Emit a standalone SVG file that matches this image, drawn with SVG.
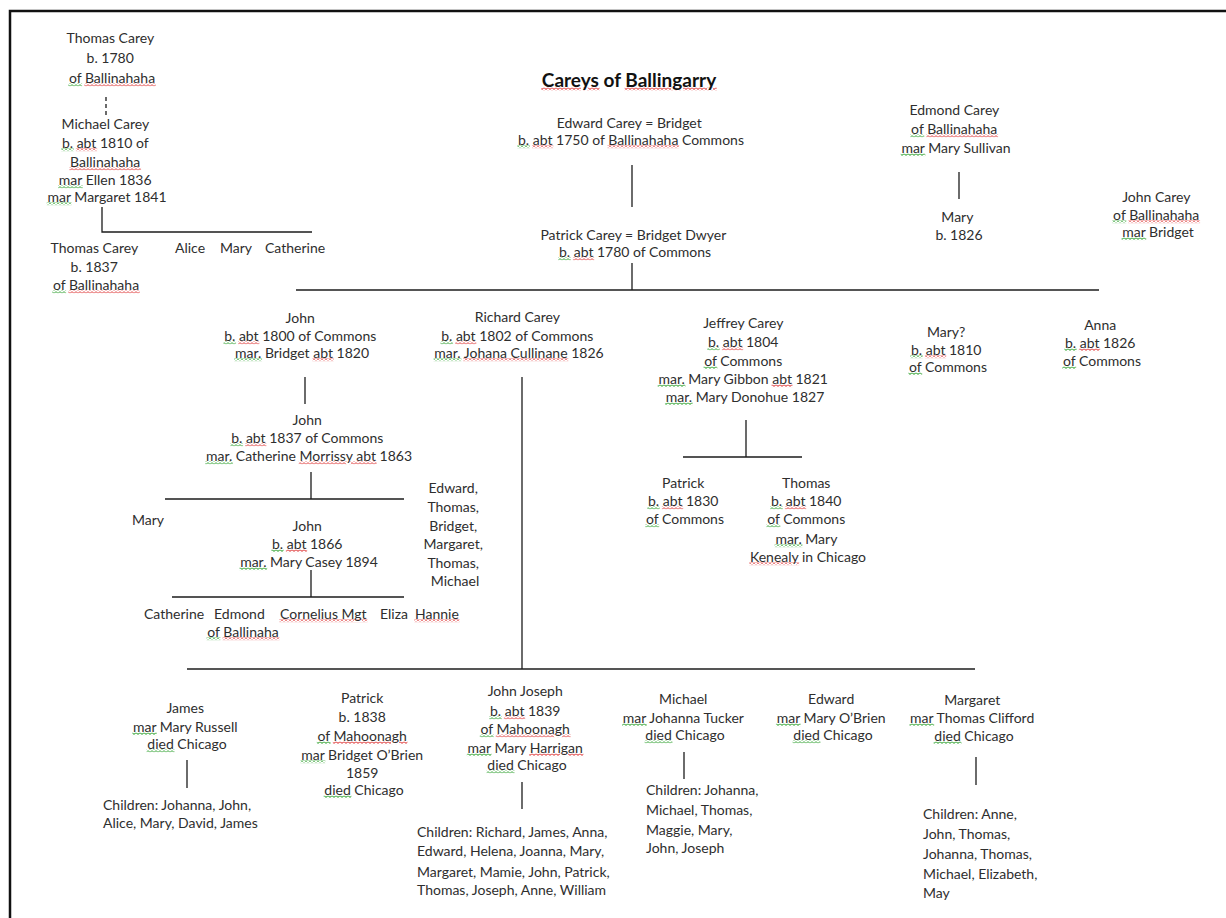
<svg xmlns="http://www.w3.org/2000/svg" width="1226" height="918" viewBox="0 0 1226 918">
<style>
.t{font-family:Lato,"Open Sans","Liberation Sans",sans-serif;font-size:14px;fill:#2e2e2e;text-anchor:middle}
.l{text-anchor:start}
.title{font-family:Lato,"Open Sans","Liberation Sans",sans-serif;font-size:19px;font-weight:bold;fill:#111;text-anchor:middle}
.ln{stroke:#1c1c1c;stroke-width:1.3;fill:none}
.r{fill:url(#wr);stroke:url(#wr);stroke-width:1.6;text-decoration:underline}
.g{fill:url(#wg);stroke:url(#wg);stroke-width:1.6;text-decoration:underline}
.k{fill:#2e2e2e;stroke:none}
.tk{fill:#111;stroke:none}
</style>
<defs>
<pattern id="wr" patternUnits="userSpaceOnUse" width="4" height="3"><path d="M0 0.5 L2 2.5 L4 0.5" stroke="#e04040" stroke-width="0.9" fill="none"/></pattern>
<pattern id="wg" patternUnits="userSpaceOnUse" width="4" height="3"><path d="M0 0.5 L2 2.5 L4 0.5" stroke="#3aa63a" stroke-width="0.9" fill="none"/></pattern>
</defs>
<rect width="1226" height="918" fill="#fff"/>
<g id="frame"><path d="M10 918 V11 H1226" stroke="#111" stroke-width="2.5" fill="none"/></g>

<g id="connectors">
<path class="ln" d="M106 97 V115" stroke-dasharray="4,3"/>
<path class="ln" d="M102 207 V232 H312"/>
<path class="ln" d="M632 165 V207"/>
<path class="ln" d="M632 263 V290"/>
<path class="ln" d="M296 290 H1099"/>
<path class="ln" d="M959 172 V199"/>
<path class="ln" d="M305 377 V404"/>
<path class="ln" d="M311 472 V499 M165 499 H404"/>
<path class="ln" d="M311 570 V597 M172 597 H404"/>
<path class="ln" d="M522 377 V669"/>
<path class="ln" d="M746 420 V457 M683 457 H802"/>
<path class="ln" d="M187 669 H975"/>
<path class="ln" d="M187 760 V788"/>
<path class="ln" d="M522 782 V809"/>
<path class="ln" d="M684 752 V779"/>
<path class="ln" d="M976 757 V785"/>
</g>

<g id="title"><text class="title" x="629" y="87"><tspan class="r"><tspan class="tk">Careys</tspan></tspan> of <tspan class="r"><tspan class="tk">Ballingarry</tspan></tspan></text></g>

<g id="thomas1780"><text class="t">
<tspan x="112" y="43">Thomas Carey</tspan>
<tspan x="112" y="63">b. 1780</tspan>
<tspan x="112" y="83"><tspan class="g"><tspan class="k">of</tspan></tspan> <tspan class="r"><tspan class="k">Ballinahaha</tspan></tspan></tspan>
</text></g>

<g id="michael1810"><text class="t">
<tspan x="107" y="129">Michael Carey</tspan>
<tspan x="107" y="148"><tspan class="g"><tspan class="k">b.</tspan></tspan> <tspan class="r"><tspan class="k">abt</tspan></tspan> 1810 of</tspan>
<tspan x="107" y="167"><tspan class="r"><tspan class="k">Ballinahaha</tspan></tspan></tspan>
<tspan x="107" y="185"><tspan class="g"><tspan class="k">mar</tspan></tspan> Ellen 1836</tspan>
<tspan x="107" y="202"><tspan class="g"><tspan class="k">mar</tspan></tspan> Margaret 1841</tspan>
</text></g>

<g id="thomas1837"><text class="t">
<tspan x="96" y="253">Thomas Carey</tspan>
<tspan x="96" y="272">b. 1837</tspan>
<tspan x="96" y="290"><tspan class="g"><tspan class="k">of</tspan></tspan> <tspan class="r"><tspan class="k">Ballinahaha</tspan></tspan></tspan>
</text></g>

<g id="michael-children"><text class="t l" y="253"><tspan x="175">Alice</tspan><tspan x="220">Mary</tspan><tspan x="265">Catherine</tspan></text></g>

<g id="edward1750"><text class="t">
<tspan x="631" y="128">Edward Carey = Bridget</tspan>
<tspan x="631" y="145"><tspan class="g"><tspan class="k">b.</tspan></tspan> <tspan class="r"><tspan class="k">abt</tspan></tspan> 1750 of <tspan class="r"><tspan class="k">Ballinahaha</tspan></tspan> Commons</tspan>
</text></g>

<g id="patrick1780"><text class="t">
<tspan x="635" y="240">Patrick Carey = Bridget Dwyer</tspan>
<tspan x="635" y="257"><tspan class="g"><tspan class="k">b.</tspan></tspan> <tspan class="r"><tspan class="k">abt</tspan></tspan> 1780 of Commons</tspan>
</text></g>

<g id="edmond"><text class="t">
<tspan x="956" y="115">Edmond Carey</tspan>
<tspan x="956" y="134"><tspan class="g"><tspan class="k">of</tspan></tspan> <tspan class="r"><tspan class="k">Ballinahaha</tspan></tspan></tspan>
<tspan x="956" y="153"><tspan class="g"><tspan class="k">mar</tspan></tspan> Mary Sullivan</tspan>
</text></g>

<g id="mary1826"><text class="t">
<tspan x="959" y="222">Mary</tspan>
<tspan x="959" y="240">b. 1826</tspan>
</text></g>

<g id="johncarey"><text class="t">
<tspan x="1158" y="202">John Carey</tspan>
<tspan x="1158" y="220"><tspan class="g"><tspan class="k">of</tspan></tspan> <tspan class="r"><tspan class="k">Ballinahaha</tspan></tspan></tspan>
<tspan x="1158" y="237"><tspan class="g"><tspan class="k">mar</tspan></tspan> Bridget</tspan>
</text></g>

<g id="john1800"><text class="t">
<tspan x="302" y="323">John</tspan>
<tspan x="302" y="341"><tspan class="g"><tspan class="k">b.</tspan></tspan> <tspan class="r"><tspan class="k">abt</tspan></tspan> 1800 of Commons</tspan>
<tspan x="302" y="358"><tspan class="g"><tspan class="k">mar.</tspan></tspan> Bridget <tspan class="r"><tspan class="k">abt</tspan></tspan> 1820</tspan>
</text></g>

<g id="john1837"><text class="t">
<tspan x="309" y="425">John</tspan>
<tspan x="309" y="443"><tspan class="g"><tspan class="k">b.</tspan></tspan> <tspan class="r"><tspan class="k">abt</tspan></tspan> 1837 of Commons</tspan>
<tspan x="309" y="461"><tspan class="g"><tspan class="k">mar.</tspan></tspan> Catherine <tspan class="r"><tspan class="k">Morrissy abt</tspan></tspan> 1863</tspan>
</text></g>

<g id="mary-john1837"><text class="t l" x="132" y="525">Mary</text></g>

<g id="john1866"><text class="t">
<tspan x="309" y="531">John</tspan>
<tspan x="309" y="549"><tspan class="g"><tspan class="k">b.</tspan></tspan> <tspan class="r"><tspan class="k">abt</tspan></tspan> 1866</tspan>
<tspan x="309" y="567"><tspan class="g"><tspan class="k">mar.</tspan></tspan> Mary Casey 1894</tspan>
</text></g>

<g id="john1866-children"><text class="t l" y="619"><tspan x="144">Catherine</tspan><tspan x="214">Edmond</tspan><tspan x="280"><tspan class="r"><tspan class="k">Cornelius Mgt</tspan></tspan></tspan><tspan x="380">Eliza</tspan><tspan x="415"><tspan class="r"><tspan class="k">Hannie</tspan></tspan></tspan></text>
<text class="t" x="243" y="637"><tspan class="g"><tspan class="k">of</tspan></tspan> <tspan class="r"><tspan class="k">Ballinaha</tspan></tspan></text></g>

<g id="john1837-siblings"><text class="t">
<tspan x="455" y="493">Edward,</tspan>
<tspan x="455" y="512">Thomas,</tspan>
<tspan x="455" y="531">Bridget,</tspan>
<tspan x="455" y="549">Margaret,</tspan>
<tspan x="455" y="568">Thomas,</tspan>
<tspan x="455" y="586">Michael</tspan>
</text></g>

<g id="richard1802"><text class="t">
<tspan x="519" y="322">Richard Carey</tspan>
<tspan x="519" y="341"><tspan class="g"><tspan class="k">b.</tspan></tspan> <tspan class="r"><tspan class="k">abt</tspan></tspan> 1802 of Commons</tspan>
<tspan x="519" y="358"><tspan class="g"><tspan class="k">mar.</tspan></tspan> <tspan class="r"><tspan class="k">Johana Cullinane</tspan></tspan> 1826</tspan>
</text></g>

<g id="jeffrey1804"><text class="t">
<tspan x="745" y="328">Jeffrey Carey</tspan>
<tspan x="745" y="347"><tspan class="g"><tspan class="k">b.</tspan></tspan> <tspan class="r"><tspan class="k">abt</tspan></tspan> 1804</tspan>
<tspan x="745" y="366"><tspan class="g"><tspan class="k">of</tspan></tspan> Commons</tspan>
<tspan x="745" y="384"><tspan class="g"><tspan class="k">mar.</tspan></tspan> Mary Gibbon <tspan class="r"><tspan class="k">abt</tspan></tspan> 1821</tspan>
<tspan x="745" y="402"><tspan class="g"><tspan class="k">mar.</tspan></tspan> Mary Donohue 1827</tspan>
</text></g>

<g id="patrick1830"><text class="t">
<tspan x="685" y="488">Patrick</tspan>
<tspan x="685" y="506"><tspan class="g"><tspan class="k">b.</tspan></tspan> <tspan class="r"><tspan class="k">abt</tspan></tspan> 1830</tspan>
<tspan x="685" y="524"><tspan class="g"><tspan class="k">of</tspan></tspan> Commons</tspan>
</text></g>

<g id="thomas1840"><text class="t">
<tspan x="808" y="488">Thomas</tspan>
<tspan x="808" y="506"><tspan class="g"><tspan class="k">b.</tspan></tspan> <tspan class="r"><tspan class="k">abt</tspan></tspan> 1840</tspan>
<tspan x="808" y="524"><tspan class="g"><tspan class="k">of</tspan></tspan> Commons</tspan>
<tspan x="808" y="544"><tspan class="g"><tspan class="k">mar.</tspan></tspan> Mary</tspan>
<tspan x="808" y="562"><tspan class="r"><tspan class="k">Kenealy</tspan></tspan> in Chicago</tspan>
</text></g>

<g id="mary1810"><text class="t">
<tspan x="948" y="337">Mary?</tspan>
<tspan x="948" y="355"><tspan class="g"><tspan class="k">b.</tspan></tspan> <tspan class="r"><tspan class="k">abt</tspan></tspan> 1810</tspan>
<tspan x="948" y="372"><tspan class="g"><tspan class="k">of</tspan></tspan> Commons</tspan>
</text></g>

<g id="anna1826"><text class="t">
<tspan x="1102" y="330">Anna</tspan>
<tspan x="1102" y="348"><tspan class="g"><tspan class="k">b.</tspan></tspan> <tspan class="r"><tspan class="k">abt</tspan></tspan> 1826</tspan>
<tspan x="1102" y="366"><tspan class="g"><tspan class="k">of</tspan></tspan> Commons</tspan>
</text></g>

<g id="james"><text class="t">
<tspan x="187" y="713">James</tspan>
<tspan x="187" y="732"><tspan class="g"><tspan class="k">mar</tspan></tspan> Mary Russell</tspan>
<tspan x="187" y="749"><tspan class="g"><tspan class="k">died</tspan></tspan> Chicago</tspan>
</text>
<text class="t l"><tspan x="103" y="810">Children: Johanna, John,</tspan><tspan x="103" y="828">Alice, Mary, David, James</tspan></text></g>

<g id="patrick1838"><text class="t">
<tspan x="364" y="703">Patrick</tspan>
<tspan x="364" y="722">b. 1838</tspan>
<tspan x="364" y="741"><tspan class="g"><tspan class="k">of</tspan></tspan> <tspan class="r"><tspan class="k">Mahoonagh</tspan></tspan></tspan>
<tspan x="364" y="760"><tspan class="g"><tspan class="k">mar</tspan></tspan> Bridget O’Brien</tspan>
<tspan x="364" y="778">1859</tspan>
<tspan x="364" y="795"><tspan class="g"><tspan class="k">died</tspan></tspan> Chicago</tspan>
</text></g>

<g id="johnjoseph1839"><text class="t">
<tspan x="527" y="696">John Joseph</tspan>
<tspan x="527" y="716"><tspan class="g"><tspan class="k">b.</tspan></tspan> <tspan class="r"><tspan class="k">abt</tspan></tspan> 1839</tspan>
<tspan x="527" y="734"><tspan class="g"><tspan class="k">of</tspan></tspan> <tspan class="r"><tspan class="k">Mahoonagh</tspan></tspan></tspan>
<tspan x="527" y="753"><tspan class="g"><tspan class="k">mar</tspan></tspan> Mary <tspan class="r"><tspan class="k">Harrigan</tspan></tspan></tspan>
<tspan x="527" y="770"><tspan class="g"><tspan class="k">died</tspan></tspan> Chicago</tspan>
</text>
<text class="t l"><tspan x="417" y="837">Children: Richard, James, Anna,</tspan><tspan x="417" y="856">Edward, Helena, Joanna, Mary,</tspan><tspan x="417" y="877">Margaret, Mamie, John, Patrick,</tspan><tspan x="417" y="895">Thomas, Joseph, Anne, William</tspan></text></g>

<g id="michael-tucker"><text class="t">
<tspan x="685" y="704">Michael</tspan>
<tspan x="685" y="723"><tspan class="g"><tspan class="k">mar</tspan></tspan> Johanna Tucker</tspan>
<tspan x="685" y="740"><tspan class="g"><tspan class="k">died</tspan></tspan> Chicago</tspan>
</text>
<text class="t l"><tspan x="646" y="795">Children: Johanna,</tspan><tspan x="646" y="815">Michael, Thomas,</tspan><tspan x="646" y="835">Maggie, Mary,</tspan><tspan x="646" y="853">John, Joseph</tspan></text></g>

<g id="edward-obrien"><text class="t">
<tspan x="833" y="704">Edward</tspan>
<tspan x="833" y="723"><tspan class="g"><tspan class="k">mar</tspan></tspan> Mary O’Brien</tspan>
<tspan x="833" y="740"><tspan class="g"><tspan class="k">died</tspan></tspan> Chicago</tspan>
</text></g>

<g id="margaret-clifford"><text class="t">
<tspan x="974" y="705">Margaret</tspan>
<tspan x="974" y="723"><tspan class="g"><tspan class="k">mar</tspan></tspan> Thomas Clifford</tspan>
<tspan x="974" y="741"><tspan class="g"><tspan class="k">died</tspan></tspan> Chicago</tspan>
</text>
<text class="t l"><tspan x="923" y="819">Children: Anne,</tspan><tspan x="923" y="839">John, Thomas,</tspan><tspan x="923" y="859">Johanna, Thomas,</tspan><tspan x="923" y="879">Michael, Elizabeth,</tspan><tspan x="923" y="898">May</tspan></text></g>
</svg>
